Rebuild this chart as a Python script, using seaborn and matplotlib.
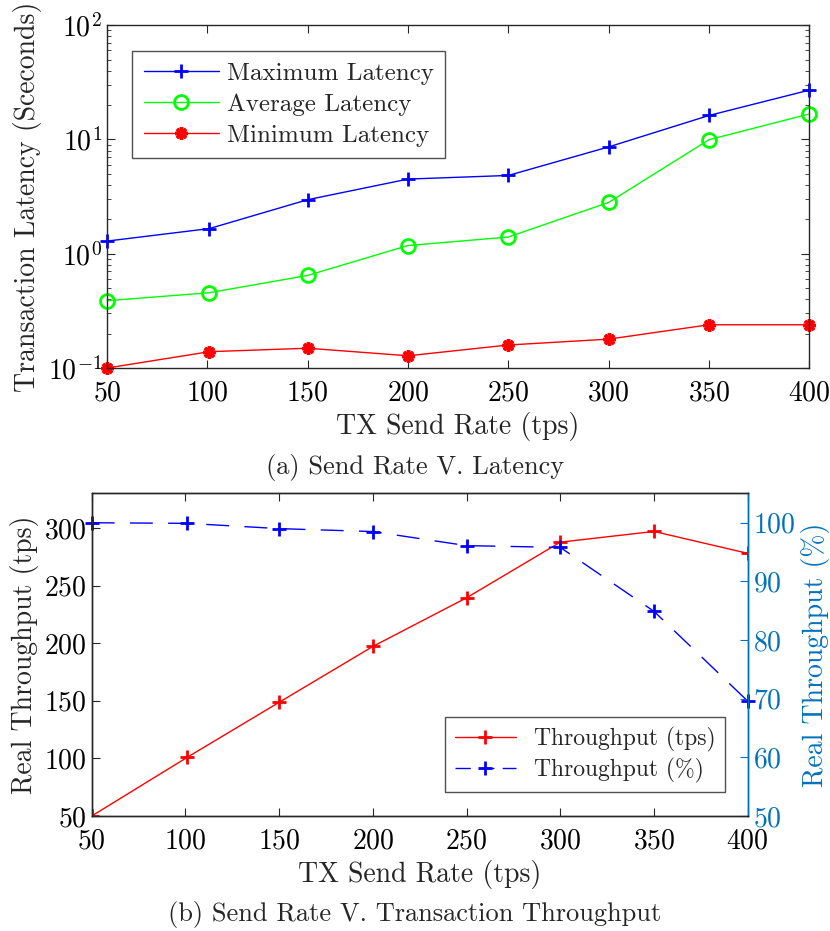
import matplotlib
matplotlib.use("Agg")
import matplotlib.pyplot as plt
import seaborn as sns
from matplotlib.lines import Line2D

# dados
send_rate = [50, 101, 150, 200, 250, 300, 350, 400]
lat_max = [1.29, 1.66, 2.97, 4.5, 4.84, 8.6, 16.2, 27.0]
lat_avg = [0.388, 0.456, 0.646, 1.18, 1.40, 2.81, 9.94, 16.7]
lat_min = [0.100, 0.139, 0.149, 0.128, 0.159, 0.179, 0.239, 0.239]

thr_tps = [50, 101, 148.7, 197.2, 239.4, 287.7, 297, 278]
thr_pct = [100, 99.9, 99.0, 98.5, 96.1, 95.8, 84.9, 69.6]

x_ticks = [50, 100, 150, 200, 250, 300, 350, 400]

sns.set_style("ticks")
plt.rcParams['font.family'] = ['serif']
plt.rcParams['font.serif'] = ['cmr10', 'DejaVu Serif']
plt.rcParams['mathtext.fontset'] = 'cm'
plt.rcParams['axes.formatter.use_mathtext'] = True
plt.rcParams['axes.unicode_minus'] = False
plt.rcParams['xtick.direction'] = 'in'
plt.rcParams['ytick.direction'] = 'in'
plt.rcParams['axes.edgecolor'] = '#262626'
plt.rcParams['axes.linewidth'] = 1.0

FS_TICK = 20
FS_LAB = 20
FS_LEG = 18
FS_CAP = 19
MATLAB_BLUE = '#0072BD'
DASH = (0, (16.5, 11))

fig = plt.figure(figsize=(8.3, 9.31), dpi=100)

# --- (a) latencia
ax1 = fig.add_axes([0.129, 0.6047, 0.846, 0.3683])
sns.lineplot(x=send_rate, y=lat_max, ax=ax1, color='blue', lw=1.0, marker='+',
             ms=10, mew=2, mec='blue', clip_on=False, label='Maximum Latency')
sns.lineplot(x=send_rate, y=lat_avg, ax=ax1, color='#00ff00', lw=1.0, marker='o',
             ms=10, mew=2, mfc='none', mec='#00ff00', clip_on=False,
             label='Average Latency')
sns.lineplot(x=send_rate, y=lat_min, ax=ax1, color='red', lw=1.0, marker=(8, 2, 0),
             ms=9, mew=2.5, mec='red', clip_on=False, label='Minimum Latency')
ax1.set_yscale('log')
ax1.set_xlim(50, 400)
ax1.set_ylim(0.1, 100)
ax1.set_xticks(x_ticks)
ax1.tick_params(axis='both', which='both', top=True, right=True, labelsize=FS_TICK,
                colors='#262626', labelcolor='black')
ax1.tick_params(axis='both', which='major', length=6)
ax1.tick_params(axis='both', which='minor', length=3)
ax1.tick_params(axis='x', which='major', pad=8.5)
ax1.set_xlabel('TX Send Rate (tps)', fontsize=FS_LAB)
ax1.set_ylabel('Transaction Latency (Sceconds)', fontsize=FS_LAB)
leg1 = ax1.legend(loc='upper left', bbox_to_anchor=(0.036, 0.924), fontsize=FS_LEG,
                  frameon=True, fancybox=False, edgecolor='#262626', borderaxespad=0,
                  handlelength=3.0, handletextpad=0.35, borderpad=0.45,
                  labelspacing=0.34)
leg1.get_frame().set_linewidth(1.0)

fig.text(0.5, 0.498, '(a) Send Rate V. Latency', ha='center', va='center', fontsize=FS_CAP)

# --- (b) throughput
ax2 = fig.add_axes([0.1105, 0.1235, 0.7903, 0.3465])
sns.lineplot(x=send_rate, y=thr_tps, ax=ax2, color='red', lw=1.0, marker='+',
             ms=10, mew=2, mec='red', legend=False)
ax2.set_xlim(50, 400)
ax2.set_ylim(50, 330)
ax2.set_xticks(x_ticks)
ax2.set_yticks([50, 100, 150, 200, 250, 300])
ax2.tick_params(axis='both', which='major', top=True, right=False, length=6,
                labelsize=FS_TICK, colors='#262626', labelcolor='black')
ax2.tick_params(axis='x', which='major', pad=9)
ax2.set_xlabel('TX Send Rate (tps)', fontsize=FS_LAB)
ax2.set_ylabel('Real Throughput (tps)', fontsize=FS_LAB)

ax3 = ax2.twinx()
sns.lineplot(x=send_rate, y=thr_pct, ax=ax3, color='blue', lw=1.0, marker='+',
             ms=10, mew=2, mec='blue', linestyle=DASH, clip_on=False, legend=False)
ax3.set_ylim(50, 105)
ax3.set_yticks([50, 60, 70, 80, 90, 100])
ax3.tick_params(axis='y', which='major', length=6, labelsize=FS_TICK, colors=MATLAB_BLUE,
                labelcolor=MATLAB_BLUE, direction='in')
ax3.spines['right'].set_color(MATLAB_BLUE)
ax3.set_ylabel('Real Throughput (%)', fontsize=FS_LAB, color=MATLAB_BLUE)

handles = [
    Line2D([], [], color='red', lw=1.0, marker='+', ms=10, mew=2),
    Line2D([], [], color='blue', lw=1.0, marker='+', ms=10, mew=2, linestyle=(0, (11, 6))),
]
leg2 = ax3.legend(handles, ['Throughput (tps)', 'Throughput (%)'], loc='lower right',
                  bbox_to_anchor=(0.965, 0.074), fontsize=17, frameon=True,
                  fancybox=False, edgecolor='#262626', borderaxespad=0,
                  handlelength=2.6, handletextpad=0.75, borderpad=0.4,
                  labelspacing=0.25)
leg2.get_frame().set_linewidth(1.0)

fig.text(0.5, 0.018, '(b) Send Rate V. Transaction Throughput', ha='center',
         va='center', fontsize=FS_CAP)

fig.savefig('out.png', dpi=100)
